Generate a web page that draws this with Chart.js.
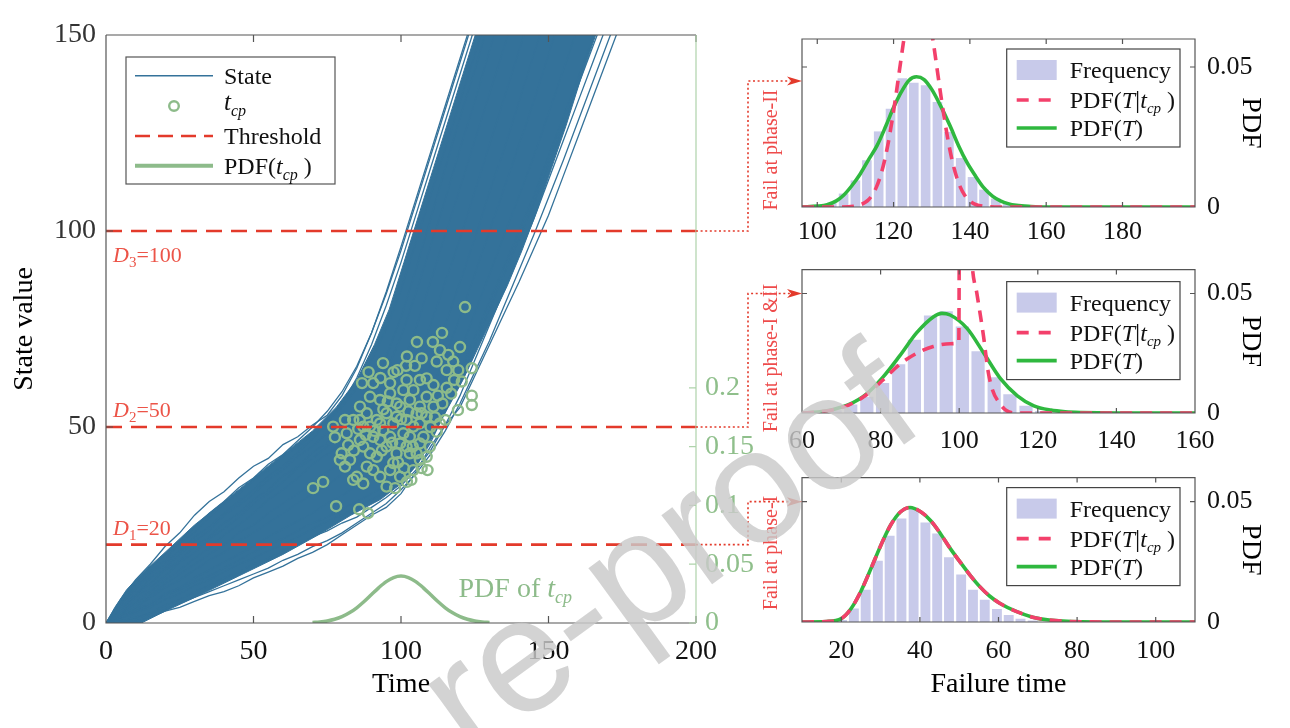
<!DOCTYPE html>
<html><head><meta charset="utf-8">
<script src="https://cdn.jsdelivr.net/npm/chart.js@4.4.1/dist/chart.umd.min.js"></script>
<style>
html,body{margin:0;padding:0;background:#fff;}
#wrap{position:relative;width:1290px;height:728px;overflow:hidden;background:#fff;}
canvas{position:absolute;}
#ov{position:absolute;left:0;top:0;pointer-events:none;}
</style></head><body>
<div id="wrap">
<canvas id="main" width="760" height="728" style="left:0;top:0"></canvas>
<canvas id="c1" width="530" height="242" style="left:760px;top:0"></canvas>
<canvas id="c2" width="530" height="208" style="left:760px;top:242px"></canvas>
<canvas id="c3" width="530" height="278" style="left:760px;top:450px"></canvas>
<svg id="ov" width="1290" height="728"></svg>
</div>
<script>
// ---------------- DATA ----------------
const thresholds = [20, 50, 100];
const thresholdNames = ['1', '2', '3'];
const mainXTicks = [0, 50, 100, 150, 200];
const pdfAxisTicks = [0, 0.05, 0.1, 0.15, 0.2];

// degradation paths sampled at these times
const pathTimes = [0,5,10,15,20,25,30,35,40,45,50,55,60,65,70,75,80,85,90,95,100,105,110,115,120,125,130,135,140,145,150,155,160,165,170,175];
const path1 = [0,6,11,15,19.5,23,27.5,31,33.5,37,40,42,45.5,47.5,50.5,53,58,65,74,84.5,96,108,120,132,144,156];
const path2 = [0,4.5,9.5,13,16,20.5,23,27,30.5,33,36.5,39,42.5,45,48,51.5,55,60,67,75,85,97,109,121,133,145,157];
const path3 = [0,4,7,11.5,14,17.5,21,23.5,27.5,30,33,36.5,39,42.5,45,48.5,51,55,61,68,78,90,103,116,129,141,154];
const path4 = [0,3,6.5,9,12,15.5,18,21.5,24,27,30.5,33,36,39.5,42,45,48.5,51,54.5,59,65,75,87,99,111,123,135,147,159];
const path5 = [0,2.5,5.5,8,11,13.5,16.5,19,22.5,25,28,31.5,34,37,40.5,43,46,49.5,52,55,59.5,66,76,87,98,110,122,134,146,158];
const path6 = [0,2,4,6.5,9,11,13.5,16,18,21,23,25.5,28,30.5,33,35,38,40.5,43,46,49,53,59,68,78,89,100,111,122,133,145,157];
const path7 = [0,1,2.5,4,6,7.5,9.5,11,13,15,16.5,18.5,20,22,24,26,27.5,29.5,31.5,33.5,36,40,46,54,62,71,80,89,98,107,117,127,137,147,157];
const path8 = [0,0.5,0.5,1.5,3,4,5.5,7,8,9.5,11.5,13,14.5,16.5,18,20,22.5,25,27.5,29.5,33,38.5,45,50.5,55,63,71,79,87,95.5,104,114,124,134,144,154];
const path9 = [0,5,8.5,12.5,15,18.5,22,24.5,28,31,34,37.5,40,43.5,47,51,56,62.5,71,81,92,104,116,128,140,152];
const path10 = [0,3.5,7.5,10,13.5,16,19.5,22,25.5,28,31.5,34,37.5,40,43.5,46,49.5,53,57.5,64,73,84,96,108,121,133,146,158];
const path11 = [0,2,5,7,10,12.5,15,17.5,20,23,25,28,30.5,33,36,38.5,41,44,46.5,50,53,58,66,76,87,98,110,121,133,145,157];
const path12 = [0,1.5,3.5,5,7.5,9,11.5,13.5,15.5,17.5,19.5,22,24,26,28,30.5,32.5,35,37,39.5,42,46,52,60,69,79,89,99,109,119,130,141,152];
const path13 = [0,0,1,2.5,4.5,6,8,9.5,11.5,13,15,16.5,18.5,20,22,23.5,25.5,27,29.5,32,35,39,44,50.5,58,67,76,85,94,103,113,123,133,143,153];
const path14 = [0,5.5,10,14,17.5,21,24.5,28,31,34.5,37,40.5,43,46.5,50,54,59,65.5,74,84,95,107,119,131,143,155];
const path15 = [0,1.5,3,4.5,7,8.5,10.5,12,14,16,18,20,21.5,23.5,25.5,27,29,31,33,35,38,42,48,56,64,73,82,91,100,109,119,129,139,149,159];
const path16 = [0,0.5,1.5,2.5,3.5,5,6.5,8,9.5,11,12.5,14,16,17.5,19.5,21,23,25.5,28,30.5,34,38,43,49,56,64,72,81,90,99,108.5,118,128,138,148,158];

// dense core of the path bundle (upper/left edge and lower/right edge)
const bandUpperT = [0,3,7,12,20,30,40,50,60,70,78,85,91,96,101,106,111,116,121,126];
const bandUpperY = [0,4,8.5,12.5,18,25,31,37,43,49,55,62,71,80,92,104,116,128,140,152];
const bandLowerT = [0,12,20,30,45,60,72,83,93,100,106,111,116,121,126,131,136,141,146,151,156,161,166,168];
const bandLowerY = [0,0,3,6.5,12,17.5,22.5,27.5,31.5,35.5,41,48,55,62,70,78,86,95,105,116,127,139,150,154];

// change points t_cp
const tcpT = [121.7,113.9,105.4,110.8,93.9,86.8,120,124,124,124,119.3,115,70.2,73.6,78,85.8,88.8,77.6,81,86,107,102,98,
98.8,101.7,104.7,101.9,106.4,108.7,111,115.5,117.7,119.4,120.6,112.1,113.2,116,
89.5,92.9,96.3,99.7,103,106.4,108.7,88.4,83.8,81.6,79.9,82.7,87.2,90.6,94,97.4,100.8,104.2,107.6,109.8,108.7,105.3,101.9,98.5,95.1,91.8,88.4,85,83.8,92.9,96.3,99.7,104.2,112.1,113.2,87.2,95.1,98.5,101.9,105.3,91.8,86.1,90.6,96.3,104.2,100.8,108.7,111,86.1,79.3,81,89.5,92.9,96.3,99.7,103,106.4,98.5,92.9,89.5,106.4,103,97.4,90.6,87.2,95.1,106.4,77,82.1,
94,97,100,102.5,93.5,99,101,95.5,91,88,85.5,84,104,107,110,109,103.5,111.5,114,117,112.5,115.5,118,102,107,97.5,93,89];
const tcpY = [80.6,74,71.7,71.7,66.3,61.2,70.4,65,58,55.6,54.3,51.8,34.4,36,29.8,29,28,47.4,51.8,51.8,39.5,36,34.4,
64.5,65.6,65.6,62,62,62.4,60.7,64.5,66.7,64.5,61.6,66.7,69.6,68.4,
57.7,56.9,58.6,55.2,56.9,55.2,52.6,53.5,51.8,48.4,43.3,41.6,45,47.5,49.2,50.9,48.4,50.1,47.5,45,42.4,43.3,45,43.3,45,42.4,39.9,37.3,36.5,37.3,39,37.3,39,48.8,50.9,50.1,53.5,52.6,51.8,53.5,51.8,55.2,61.2,61.2,59.4,59.4,57.7,55.2,46.7,41.6,39.9,43.3,46.7,47.5,45.8,47.5,45.8,56,50.9,50.1,50.9,43.3,40.8,39,35.6,34.8,41.6,50.1,45.4,
54.5,46,52,54,44,41,39.5,56.5,49,48,49.5,44,45,53.5,50,39,36.5,52.5,56,58.5,58,60,62,68,67.5,64,62.5,64];

// PDF of t_cp (right axis of the main panel)
const tcpPdfT = [70,72.5,75,77.5,80,82.5,85,87.5,90,92.5,95,97.5,100,102.5,105,107.5,110,112.5,115,117.5,120,122.5,125,127.5,130];
const tcpPdfY = [0.00044,0.00091,0.00175,0.00317,0.0054,0.00863,0.01295,0.01826,0.0242,0.03011,0.03521,0.03867,0.0399,0.03867,0.03521,0.03011,0.0242,0.01826,0.01295,0.00863,0.0054,0.00317,0.00175,0.00091,0.00044];

// Panel: fail at phase-II
const topXTicks = [100,120,140,160,180];
const topBins = [103.8,106.9,110.0,113.0,116.1,119.2,122.3,125.3,128.4,131.5,134.5,137.6,140.7,143.7,146.8,149.9];
const topFreq = [0.0015,0.0048,0.0095,0.0167,0.027,0.0351,0.046,0.0444,0.0435,0.0375,0.0268,0.0175,0.0107,0.0062,0.003,0.0012];
const topPdfT = [96,100,102.6,105,106.9,109,111.3,113.5,115.7,118,120,122,124,126,128,130,132,134.8,137,139.2,141.5,143.5,146,148,150,152.2,156,160,199];
const topPdfY = [0,0.0003,0.0008,0.0022,0.0042,0.0075,0.0119,0.017,0.022,0.029,0.0355,0.041,0.0452,0.0465,0.0455,0.042,0.037,0.029,0.022,0.016,0.011,0.0071,0.0038,0.0022,0.0012,0.0006,0.0002,0,0];
const topCondT = [96,106.5,109.5,111.5,112.5,113.5,114.5,115.5,116.5,117.5,118.5,119.5,120.5,121.5,122.5,123.5,124.5,125.5,126.5,127.5,128.5,129.5,130.5,131.5,132.5,133.5,134.5,135.5,136.5,137.5,138.5,139.5,140.5,141.5,143.5,146.5,199];
const topCondY = [0,0,0.00025,0.0009,0.0016,0.0027,0.0045,0.0071,0.0108,0.0158,0.0222,0.03,0.0388,0.0484,0.058,0.0667,0.0737,0.0782,0.0798,0.0782,0.0737,0.0667,0.058,0.0484,0.0388,0.03,0.0222,0.0158,0.0108,0.0071,0.0045,0.0027,0.0016,0.0009,0.00025,0,0];

// Panel: fail at phase-I & II
const midXTicks = [60,80,100,120,140,160];
const midBins = [68.4,72.4,76.5,80.5,84.6,88.6,92.7,96.7,100.8,104.8,108.9,112.9,117.0,121.0];
const midFreq = [0.0012,0.0036,0.0068,0.0126,0.0204,0.0306,0.0408,0.0426,0.0362,0.0258,0.015,0.0078,0.003,0.0008];
const midPdfT = [60,64,67.7,72,76.3,80.6,84.9,89.2,93.4,95.6,97.7,102,106.2,110.5,114.8,119,123.3,127,131,140,160];
const midPdfY = [0,0.0004,0.0014,0.0036,0.0078,0.015,0.024,0.0336,0.0402,0.0417,0.041,0.0354,0.0252,0.0144,0.0072,0.003,0.0012,0.0005,0.0002,0,0];
const midCondT = [60,64,67.7,72,76.3,80.6,84.9,89.2,93.4,97.7,99.9,100.1,101.5,103.3,104.5,106.2,107.3,108.4,110.5,112,114,160];
const midCondY = [0,0.0004,0.0013,0.0034,0.0075,0.0138,0.0204,0.025,0.0278,0.029,0.0295,0.1,0.12,0.062,0.05,0.032,0.018,0.01,0.0036,0.001,0,0];

// Panel: fail at phase-I
const botXTicks = [20,40,60,80,100];
const botBins = [20.2,23.2,26.2,29.3,32.3,35.3,38.4,41.4,44.4,47.4,50.5,53.5,56.5,59.6,62.6,65.6,68.7];
const botFreq = [0.0008,0.0056,0.0134,0.0254,0.0358,0.043,0.0473,0.0413,0.0368,0.0269,0.0197,0.0134,0.0092,0.0054,0.0029,0.0014,0.0006];
const botPdfT = [10,16.2,20,22.5,25,27.6,30.1,32.6,35.1,37.5,40.2,42.7,45.2,47.7,50.3,52.8,55.3,57.8,60.3,64.5,68.7,72.9,81.3,90,110];
const botPdfY = [0,0.0002,0.0014,0.0056,0.0128,0.0224,0.032,0.0404,0.0458,0.0476,0.0458,0.0422,0.0368,0.0306,0.0248,0.0194,0.0146,0.0107,0.0078,0.0044,0.002,0.0008,0.0001,0,0];
const botCondT = botPdfT;
const botCondY = [0,0.0002,0.0014,0.0056,0.0128,0.0224,0.032,0.0404,0.0458,0.0476,0.0458,0.0422,0.0368,0.0306,0.0248,0.0194,0.0146,0.0107,0.0078,0.0044,0.002,0.0008,0.0001,0,0];
const smallYTicks = [0, 0.05];
const arrowTargets = [0.045, 0.05, 0.05];
const phaseLabels = ['Fail at phase-II', 'Fail at phase-I &II', 'Fail at phase-I'];

// ---------------- STYLE ----------------
const SERIF = '"Liberation Serif", "Times New Roman", serif';
const BLUE = '#34729A';
const TCPG = '#8DBB8A';
const RED = '#E33A2B';
const LRED = '#EC5448';
const BAR = '#C8CAEA';
const GREEN = '#2FB83F';
const PINK = '#F3406B';
const AXIS = '#555555';
Chart.defaults.font.family = SERIF;

function rich(ctx, x, y, segs, color) {
  let cx = x;
  ctx.textAlign = 'left'; ctx.textBaseline = 'alphabetic';
  segs.forEach(s => {
    ctx.font = (s.i ? 'italic ' : '') + s.s + 'px ' + SERIF;
    ctx.fillStyle = s.c || color;
    ctx.fillText(s.t, cx, y + (s.dy || 0));
    cx += ctx.measureText(s.t).width;
  });
}
const pts = (xs, ys) => xs.map((x, i) => ({x: x, y: ys[i]})).filter(p => p.y !== undefined);

// ---------------- MAIN PANEL ----------------
const mainDatasets = [];
const bandPoly = pts(bandUpperT, bandUpperY).concat(pts(bandLowerT, bandLowerY).reverse());
mainDatasets.push({data: bandPoly, yAxisID: 'y', fill: 'shape', backgroundColor: BLUE, borderColor: BLUE, borderWidth: 1, pointRadius: 0, order: 5});
[path1,path2,path3,path4,path5,path6,path7,path8,path9,path10,path11,path12,path13,path14,path15,path16].forEach(p => {
  mainDatasets.push({data: pts(pathTimes.slice(0, p.length), p), yAxisID: 'y', borderColor: BLUE, borderWidth: 1.3, pointRadius: 0, fill: false, order: 4});
});
mainDatasets.push({data: pts(tcpPdfT, tcpPdfY), yAxisID: 'y1', borderColor: TCPG, borderWidth: 3.5, pointRadius: 0, fill: false, cubicInterpolationMode: 'monotone', order: 3});
mainDatasets.push({data: pts(tcpT, tcpY), yAxisID: 'y', showLine: false, pointRadius: 5, pointBorderWidth: 2.4, pointBorderColor: TCPG, pointBackgroundColor: 'rgba(0,0,0,0)', order: 2});
thresholds.forEach(v => {
  mainDatasets.push({data: [{x: 0, y: v}, {x: 200, y: v}], yAxisID: 'y', borderColor: RED, borderWidth: 2.6, borderDash: [16, 9], pointRadius: 0, fill: false, order: 1});
});

const mainDecor = {
  id: 'mainDecor',
  afterDatasetsDraw(chart) {
    const {ctx, chartArea: a, scales} = chart;
    ctx.save();
    ctx.lineWidth = 1.2; ctx.strokeStyle = AXIS;
    ctx.beginPath();
    scales.x.ticks.forEach(t => {
      const px = scales.x.getPixelForValue(t.value);
      ctx.moveTo(px, a.bottom); ctx.lineTo(px, a.bottom - 7);
      ctx.moveTo(px, a.top); ctx.lineTo(px, a.top + 7);
    });
    scales.y.ticks.forEach(t => {
      const py = scales.y.getPixelForValue(t.value);
      ctx.moveTo(a.left, py); ctx.lineTo(a.left + 7, py);
    });
    ctx.moveTo(a.left, a.top); ctx.lineTo(a.left, a.bottom); ctx.lineTo(a.right, a.bottom);
    ctx.moveTo(a.left, a.top); ctx.lineTo(a.right, a.top);
    ctx.stroke();
    ctx.strokeStyle = '#AFD3AB';
    ctx.beginPath();
    ctx.moveTo(a.right, a.top); ctx.lineTo(a.right, a.bottom);
    scales.y1.ticks.forEach(t => {
      const py = scales.y1.getPixelForValue(t.value);
      ctx.moveTo(a.right, py); ctx.lineTo(a.right - 7, py);
    });
    ctx.stroke();
    // threshold labels
    const ys = scales.y;
    rich(ctx, a.left + 7, ys.getPixelForValue(100) + 31, [{t: 'D', s: 22, i: true}, {t: thresholdNames[2], s: 15, dy: 5}, {t: '=100', s: 22}], LRED);
    rich(ctx, a.left + 7, ys.getPixelForValue(50) - 10, [{t: 'D', s: 22, i: true}, {t: thresholdNames[1], s: 15, dy: 5}, {t: '=50', s: 22}], LRED);
    rich(ctx, a.left + 7, ys.getPixelForValue(20) - 10, [{t: 'D', s: 22, i: true}, {t: thresholdNames[0], s: 15, dy: 5}, {t: '=20', s: 22}], LRED);
    // PDF of tcp label
    rich(ctx, scales.x.getPixelForValue(119.5), scales.y1.getPixelForValue(0.0225), [{t: 'PDF of ', s: 28}, {t: 't', s: 28, i: true}, {t: 'cp', s: 18, i: true, dy: 6}], TCPG);
    // legend
    const L = a.left + 20, T = a.top + 22;
    ctx.fillStyle = '#fff'; ctx.fillRect(L, T, 209, 127);
    ctx.strokeStyle = AXIS; ctx.lineWidth = 1.2; ctx.strokeRect(L, T, 209, 127);
    const rows = [T + 18.7, T + 49, T + 79, T + 108.7];
    const x0 = L + 9, x1 = L + 87, tx = L + 98;
    ctx.setLineDash([]);
    ctx.strokeStyle = BLUE; ctx.lineWidth = 1.5;
    ctx.beginPath(); ctx.moveTo(x0, rows[0]); ctx.lineTo(x1, rows[0]); ctx.stroke();
    ctx.strokeStyle = TCPG; ctx.lineWidth = 2.4;
    ctx.beginPath(); ctx.arc((x0 + x1) / 2, rows[1], 4.8, 0, Math.PI * 2); ctx.stroke();
    ctx.strokeStyle = RED; ctx.lineWidth = 2.6; ctx.setLineDash([15, 8]);
    ctx.beginPath(); ctx.moveTo(x0, rows[2]); ctx.lineTo(x1, rows[2]); ctx.stroke();
    ctx.setLineDash([]);
    ctx.strokeStyle = TCPG; ctx.lineWidth = 4;
    ctx.beginPath(); ctx.moveTo(x0, rows[3]); ctx.lineTo(x1, rows[3]); ctx.stroke();
    rich(ctx, tx, rows[0] + 8, [{t: 'State', s: 24}], '#111');
    rich(ctx, tx, rows[1] + 4, [{t: 't', s: 25, i: true}, {t: 'cp', s: 16, i: true, dy: 6}], '#111');
    rich(ctx, tx, rows[2] + 8, [{t: 'Threshold', s: 24}], '#111');
    rich(ctx, tx, rows[3] + 8, [{t: 'PDF(', s: 24}, {t: 't', s: 24, i: true}, {t: 'cp', s: 16, i: true, dy: 6}, {t: ' )', s: 24}], '#111');
    ctx.restore();
  }
};

const mainChart = new Chart(document.getElementById('main'), {
  type: 'line',
  data: {datasets: mainDatasets},
  options: {
    responsive: false, animation: false, devicePixelRatio: 1,
    layout: {padding: {top: 35, left: 0, right: 0, bottom: 0}},
    plugins: {legend: {display: false}, tooltip: {enabled: false}},
    scales: {
      x: {type: 'linear', min: 0, max: 200, offset: false,
        afterBuildTicks: s => { s.ticks = mainXTicks.map(v => ({value: v})); },
        ticks: {font: {size: 28, family: SERIF}, color: '#111', padding: 12, maxRotation: 0, autoSkip: false},
        grid: {display: false, drawTicks: false}, border: {display: false},
        title: {display: true, text: 'Time', font: {size: 28, family: SERIF}, color: '#000', padding: {top: 0, bottom: 27}},
        afterFit: s => { s.height = 105; }},
      y: {type: 'linear', position: 'left', min: 0, max: 150,
        ticks: {stepSize: 50, font: {size: 28, family: SERIF}, color: '#333', padding: 10},
        grid: {display: false, drawTicks: false}, border: {display: false},
        title: {display: true, text: 'State value', font: {size: 28, family: SERIF}, color: '#000', padding: {top: 8, bottom: 0}},
        afterFit: s => { s.width = 106; }},
      y1: {type: 'linear', position: 'right', min: 0, max: 0.5,
        afterBuildTicks: s => { s.ticks = pdfAxisTicks.map(v => ({value: v})); },
        ticks: {font: {size: 28, family: SERIF}, color: '#8FBF8B', padding: 9, callback: v => String(v)},
        grid: {display: false, drawTicks: false}, border: {display: false},
        afterFit: s => { s.width = 64; }}
    }
  },
  plugins: [mainDecor]
});

// ---------------- SMALL PANELS ----------------
function makeDecor(o) {
  return {
    id: 'sdecor',
    afterDatasetsDraw(chart) {
      const {ctx, chartArea: a, scales} = chart;
      ctx.save();
      ctx.setLineDash([]);
      ctx.lineWidth = 1.2; ctx.strokeStyle = AXIS;
      ctx.beginPath();
      scales.x.ticks.forEach(t => {
        const px = scales.x.getPixelForValue(t.value);
        ctx.moveTo(px, a.bottom); ctx.lineTo(px, a.bottom - 5);
        ctx.moveTo(px, a.top); ctx.lineTo(px, a.top + 5);
      });
      scales.y.ticks.forEach(t => {
        const py = scales.y.getPixelForValue(t.value);
        ctx.moveTo(a.left, py); ctx.lineTo(a.left + 5, py);
        ctx.moveTo(a.right, py); ctx.lineTo(a.right - 5, py);
      });
      ctx.rect(a.left, a.top, a.right - a.left, a.bottom - a.top);
      ctx.stroke();
      // legend
      const R = a.right - 15, L = R - 173.3, T = a.top + o.legTop, H = 98;
      ctx.fillStyle = '#fff'; ctx.fillRect(L, T, R - L, H);
      ctx.strokeStyle = '#444'; ctx.lineWidth = 1.2; ctx.strokeRect(L, T, R - L, H);
      const rows = [T + 21, T + 51, T + 79];
      const x0 = L + 10, x1 = L + 50, tx = L + 63;
      ctx.fillStyle = BAR; ctx.fillRect(x0, rows[0] - 10, x1 - x0, 20);
      ctx.strokeStyle = PINK; ctx.lineWidth = 3.6; ctx.setLineDash([12, 10]);
      ctx.beginPath(); ctx.moveTo(x0, rows[1]); ctx.lineTo(x1, rows[1]); ctx.stroke();
      ctx.setLineDash([]);
      ctx.strokeStyle = GREEN; ctx.lineWidth = 3.6;
      ctx.beginPath(); ctx.moveTo(x0, rows[2]); ctx.lineTo(x1, rows[2]); ctx.stroke();
      rich(ctx, tx, rows[0] + 8, [{t: 'Frequency', s: 24}], '#111');
      rich(ctx, tx, rows[1] + 8, [{t: 'PDF(', s: 24}, {t: 'T', s: 24, i: true}, {t: '|', s: 26}, {t: 't', s: 24, i: true}, {t: 'cp', s: 15, i: true, dy: 5}, {t: ' )', s: 24}], '#111');
      rich(ctx, tx, rows[2] + 8, [{t: 'PDF(', s: 24}, {t: 'T', s: 24, i: true}, {t: ')', s: 24}], '#111');
      ctx.restore();
    }
  };
}

function smallChart(id, o) {
  return new Chart(document.getElementById(id), {
    type: 'line',
    data: {datasets: [
      {type: 'bar', data: pts(o.bins, o.freq), backgroundColor: BAR, borderWidth: 0, barPercentage: 0.84, categoryPercentage: 1, order: 3},
      {data: pts(o.pdfX, o.pdfY), borderColor: GREEN, borderWidth: 3.6, pointRadius: 0, fill: false, cubicInterpolationMode: 'monotone', order: 2},
      {data: pts(o.condX, o.condY), borderColor: PINK, borderWidth: 3.6, borderDash: [12, 8], pointRadius: 0, fill: false, cubicInterpolationMode: 'monotone', order: 1, clip: 0}
    ]},
    options: {
      responsive: false, animation: false, devicePixelRatio: 1,
      layout: {padding: {left: 42, top: o.padTop, right: 0, bottom: 0}},
      plugins: {legend: {display: false}, tooltip: {enabled: false}},
      scales: {
        x: {type: 'linear', min: o.xmin, max: o.xmax, offset: false,
          afterBuildTicks: s => { s.ticks = o.xticks.map(v => ({value: v})); },
          ticks: {font: {size: 26, family: SERIF}, color: '#111', padding: o.xpad, maxRotation: 0, autoSkip: false, callback: v => String(v)},
          grid: {display: false, drawTicks: false}, border: {display: false},
          title: o.xtitle ? {display: true, text: o.xtitle, font: {size: 28, family: SERIF}, color: '#000', padding: {top: 0, bottom: 27}} : {display: false},
          afterFit: s => { s.height = o.xh; }},
        y: {type: 'linear', position: 'right', min: 0, max: 0.06,
          afterBuildTicks: s => { s.ticks = smallYTicks.map(v => ({value: v})); },
          ticks: {font: {size: 26, family: SERIF}, color: '#111', padding: 12, callback: v => String(v)},
          grid: {display: false, drawTicks: false}, border: {display: false},
          title: {display: true, text: 'PDF', font: {size: 28, family: SERIF}, color: '#000', padding: {top: 23, bottom: 0}},
          afterFit: s => { s.width = 95; }}
      }
    },
    plugins: [makeDecor(o)]
  });
}

const c1 = smallChart('c1', {bins: topBins, freq: topFreq, pdfX: topPdfT, pdfY: topPdfY, condX: topCondT, condY: topCondY,
  xmin: 96, xmax: 199, xticks: topXTicks, padTop: 39, xh: 35, xpad: 10, legTop: 10});
const c2 = smallChart('c2', {bins: midBins, freq: midFreq, pdfX: midPdfT, pdfY: midPdfY, condX: midCondT, condY: midCondY,
  xmin: 60, xmax: 160, xticks: midXTicks, padTop: 3, xh: 37, xpad: 13, legTop: 12});
const c3 = smallChart('c3', {bins: botBins, freq: botFreq, pdfX: botPdfT, pdfY: botPdfY, condX: botCondT, condY: botCondY,
  xmin: 10, xmax: 110, xticks: botXTicks, padTop: 5, xh: 106, xpad: 14, legTop: 10, xtitle: 'Failure time'});

// ---------------- OVERLAY: connectors, labels, watermark ----------------
const svg = document.getElementById('ov');
const NS = 'http://www.w3.org/2000/svg';
function el(tag, attrs, text) {
  const e = document.createElementNS(NS, tag);
  for (const k in attrs) e.setAttribute(k, attrs[k]);
  if (text) e.textContent = text;
  svg.appendChild(e); return e;
}
const smalls = [c1, c2, c3];
const tops = [0, 242, 450];
const levels = [100, 50, 20];
const labelCenters = [150, 358, 553];
const xStart = mainChart.chartArea.right, xMid = 748;
levels.forEach((lv, i) => {
  const y0 = mainChart.scales.y.getPixelForValue(lv);
  const ch = smalls[i];
  const yT = tops[i] + ch.scales.y.getPixelForValue(arrowTargets[i]);
  const tip = 760 + ch.chartArea.left;
  el('polyline', {points: `${xStart},${y0} ${xMid},${y0} ${xMid},${yT} ${tip - 12},${yT}`, fill: 'none', stroke: RED, 'stroke-width': 1.6, 'stroke-dasharray': '2 2.6'});
  el('polygon', {points: `${tip},${yT} ${tip - 15},${yT - 4.5} ${tip - 11},${yT} ${tip - 15},${yT + 4.5}`, fill: RED});
  const cy = labelCenters[i];
  el('text', {x: 770, y: cy, transform: `rotate(-90 770 ${cy})`, 'text-anchor': 'middle', 'dominant-baseline': 'central', 'font-family': SERIF, 'font-size': 20, fill: '#EE4B4B'}, phaseLabels[i]);
});
el('text', {x: 470, y: 760, transform: 'rotate(-36 470 760)', 'font-family': '"Liberation Sans", Arial, sans-serif', 'font-size': 162, fill: '#C9C9C9', 'fill-opacity': 0.82}, 're-proof');
</script>
</body></html>
